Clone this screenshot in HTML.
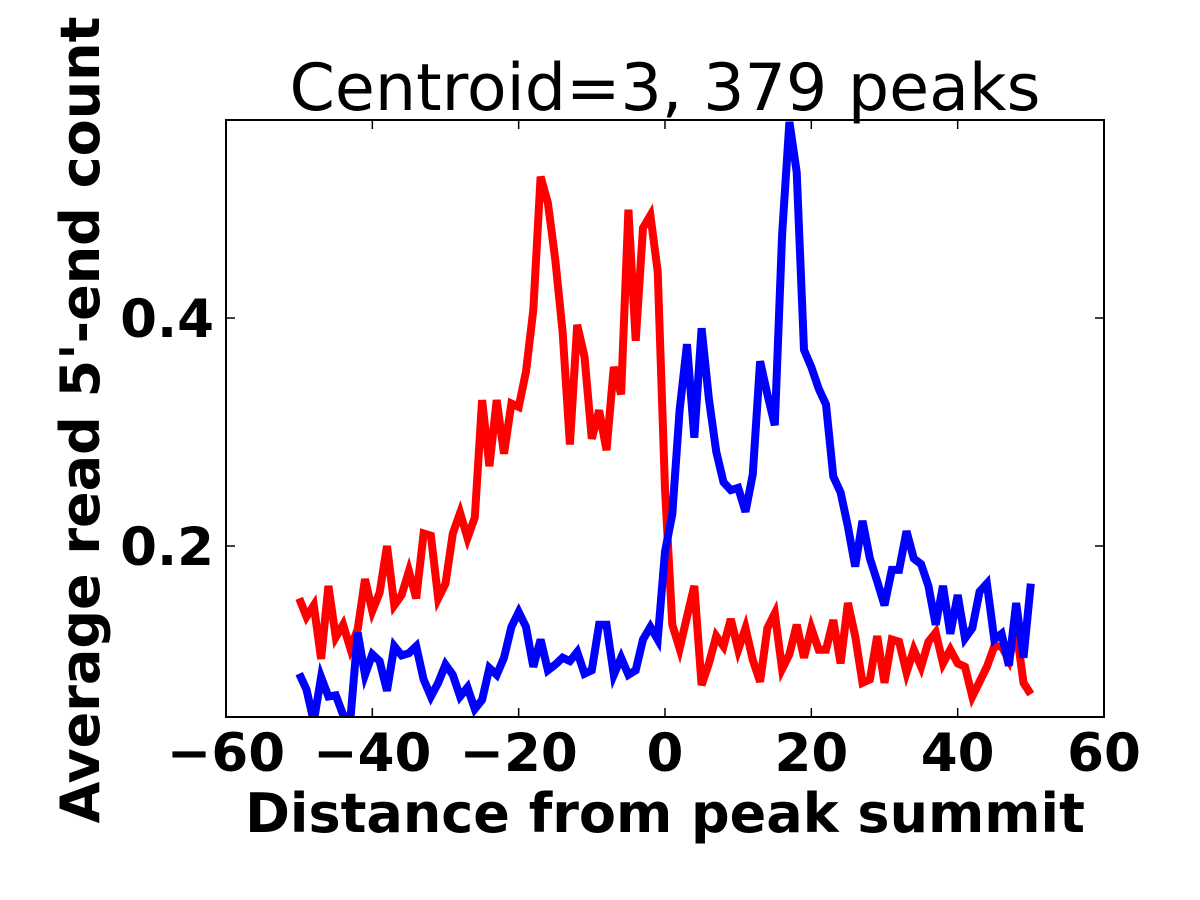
<!DOCTYPE html>
<html><head><meta charset="utf-8"><style>body{margin:0;background:#fff}svg{display:block}text{font-family:"DejaVu Sans","Liberation Sans",sans-serif}</style></head>
<body>
<svg id="chart" width="1200" height="900">
<text x="665" y="110" font-size="65" text-anchor="middle">Centroid=3, 379 peaks</text>
<g id="plot"></g>
<text x="665" y="832" font-size="54" font-weight="bold" text-anchor="middle">Distance from peak summit</text>
<text transform="translate(99,420) rotate(-90)" font-size="54" font-weight="bold" text-anchor="middle">Average read 5'-end count</text>
</svg>
<script>
const xs = [];
for (let i = -50; i <= 50; i++) xs.push(i);
const redValues = [0.154,0.138,0.148,0.101,0.165,0.120,0.131,0.110,0.127,0.171,0.143,0.159,0.200,0.148,0.157,0.178,0.154,0.211,0.209,0.154,0.167,0.211,0.229,0.207,0.225,0.328,0.270,0.328,0.281,0.325,0.322,0.353,0.407,0.524,0.501,0.451,0.388,0.289,0.394,0.366,0.294,0.319,0.284,0.357,0.333,0.495,0.380,0.479,0.490,0.441,0.250,
0.131,0.110,0.138,0.165,0.078,0.097,0.121,0.112,0.136,0.109,0.128,0.100,0.081,0.128,0.141,0.092,0.105,0.131,0.102,0.128,0.109,0.109,0.135,0.097,0.150,0.121,0.080,0.083,0.121,0.080,0.118,0.116,0.089,0.109,0.094,0.116,0.124,0.097,0.109,0.097,0.094,0.068,0.081,0.094,0.112,0.112,0.100,0.128,0.080,0.070];
const blueValues = [0.088,0.074,0.046,0.085,0.068,0.069,0.052,0.048,0.124,0.087,0.105,0.099,0.073,0.112,0.104,0.106,0.112,0.083,0.068,0.080,0.096,0.087,0.068,0.076,0.057,0.065,0.093,0.087,0.102,0.129,0.142,0.129,0.094,0.118,0.091,0.096,0.102,0.099,0.107,0.088,0.091,0.131,0.131,0.087,0.102,0.087,0.091,0.118,0.129,0.118,0.195,
0.228,0.319,0.377,0.295,0.391,0.329,0.283,0.256,0.249,0.251,0.230,0.263,0.362,0.333,0.306,0.473,0.572,0.528,0.372,0.357,0.338,0.324,0.261,0.247,0.217,0.182,0.222,0.189,0.169,0.148,0.179,0.179,0.213,0.189,0.184,0.165,0.131,0.165,0.123,0.157,0.119,0.128,0.160,0.167,0.118,0.123,0.095,0.150,0.102,0.167];
const xTicks = [-60,-40,-20,0,20,40,60];
const yTicks = [0.2,0.4];
const yTickLabels = ["0.2","0.4"];

const L=226,R=1104,T=120,B=717,xMin=-60,xMax=60,yMin=0.05,yMax=0.5737;
const X=v=>L+(v-xMin)/(xMax-xMin)*(R-L);
const Y=v=>B-(v-yMin)/(yMax-yMin)*(B-T);
const NS="http://www.w3.org/2000/svg";
const g=document.getElementById('plot');
function mk(t,a){const e=document.createElementNS(NS,t);for(const k in a)e.setAttribute(k,a[k]);g.appendChild(e);return e;}
const clip=mk('clipPath',{id:'c'});
const cr=document.createElementNS(NS,'rect');
cr.setAttribute('x',L);cr.setAttribute('y',T);cr.setAttribute('width',R-L);cr.setAttribute('height',B-T);
clip.appendChild(cr);
function line(vals,color,name){
  const d=vals.map((v,i)=>(i?'L':'M')+X(xs[i]).toFixed(1)+','+Y(v).toFixed(1)).join('');
  const p=mk('path',{d:d,fill:'none',stroke:color,'stroke-width':8,'stroke-linejoin':'miter','clip-path':'url(#c)'});
  
  
}
line(redValues,'#ff0000','red-series-line');
line(blueValues,'#0000ff','blue-series-line');
const frame=mk('rect',{x:L,y:T,width:R-L,height:B-T,fill:'none',stroke:'#000','stroke-width':2});


xTicks.forEach(t=>{
  const x=X(t);
  mk('line',{x1:x,x2:x,y1:B,y2:B-9,stroke:'#000','stroke-width':1.5});
  mk('line',{x1:x,x2:x,y1:T,y2:T+9,stroke:'#000','stroke-width':1.5});
  const tx=mk('text',{x:x,y:771,'font-size':53,'font-weight':'bold','text-anchor':'middle'});
  tx.textContent=t<0?'\u2212'+(-t):String(t);
  
  
});
yTicks.forEach((t,i)=>{
  const y=Y(t);
  mk('line',{x1:L,x2:L+9,y1:y,y2:y,stroke:'#000','stroke-width':1.5});
  mk('line',{x1:R,x2:R-9,y1:y,y2:y,stroke:'#000','stroke-width':1.5});
  const tx=mk('text',{x:214,y:y+19,'font-size':53,'font-weight':'bold','text-anchor':'end'});
  tx.textContent=yTickLabels[i];
  
  
});
</script>
</body></html>
